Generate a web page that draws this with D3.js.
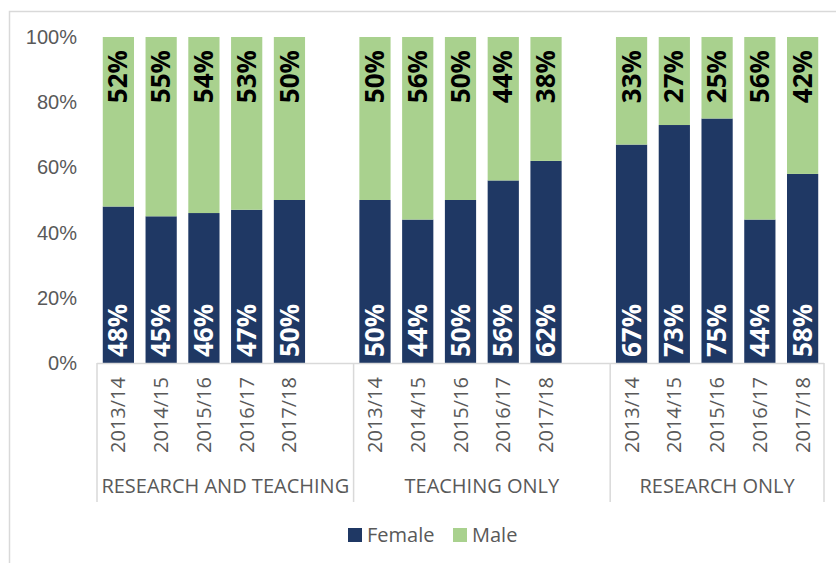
<!DOCTYPE html>
<html lang="en">
<head>
    <meta charset="UTF-8">
    <title>Female / Male staff by contract type</title>
    <script src="https://d3js.org/d3.v7.min.js"></script>
    <style>
    html, body {
        margin: 0;
        padding: 0;
        background: #fff;
    }

    svg {
        display: block;
        font-family: "Open Sans", "Noto Sans", Arial, sans-serif;
    }

    .axis text {
        fill: #595959;
        font-size: 20px;
    }

    .label-female {
        fill: #fff;
        font-weight: bold;
        font-size: 26px;
    }

    .label-male {
        fill: #000;
        font-weight: bold;
        font-size: 26px;
    }
    </style>
</head>
<body>
    <svg id="canvas"></svg>

    <script>
    // Data
    let groups = ['RESEARCH AND TEACHING', 'TEACHING ONLY', 'RESEARCH ONLY'];
    let years = ['2013/14', '2014/15', '2015/16', '2016/17', '2017/18'];
    let female = [
        [48, 45, 46, 47, 50],
        [50, 44, 50, 56, 62],
        [67, 73, 75, 44, 58]
    ];
    let male = [
        [52, 55, 54, 53, 50],
        [50, 56, 50, 44, 38],
        [33, 27, 25, 56, 42]
    ];
    let yTicks = [0, 20, 40, 60, 80, 100];
    let seriesNames = ['Female', 'Male'];
    let colors = ['#1F3864', '#A9D18E'];

    let width = 836;
    let height = 563;
    let plotLeft = 97;
    let plotRight = 824;
    let plotTop = 37;
    let plotBottom = 363;

    let svg = d3.select('#canvas')
        .attr('width', width)
        .attr('height', height);

    // chart frame
    svg.append('rect')
        .attr('x', 9.5)
        .attr('y', 11.5)
        .attr('width', 900)
        .attr('height', 700)
        .attr('fill', 'none')
        .attr('stroke', '#d9d9d9')
        .attr('stroke-width', 1.5);

    // Build rows: one slot per year, plus an empty slot after each group but the last
    let rows = [];
    let slots = [];
    groups.forEach((g, gi) => {
        years.forEach((y, yi) => {
            let key = gi + '|' + y;
            slots.push(key);
            rows.push({ key: key, group: gi, year: y, female: female[gi][yi], male: male[gi][yi] });
        });
        if (gi < groups.length - 1) slots.push(gi + '|gap');
    });

    let xScale = d3.scaleBand()
        .domain(slots)
        .range([plotLeft, plotRight])
        .paddingInner(0.27)
        .paddingOuter(0.135);

    let yScale = d3.scaleLinear()
        .domain([0, 100])
        .range([plotBottom, plotTop]);

    // Y axis
    let yAxis = d3.axisLeft(yScale)
        .tickValues(yTicks)
        .tickFormat(d => d + '%')
        .tickSize(0)
        .tickPadding(20);

    svg.append('g')
        .attr('class', 'axis')
        .attr('transform', 'translate(' + plotLeft + ', 0)')
        .call(yAxis)
        .call(g => g.select('.domain').remove());

    // Bars
    let stack = d3.stack().keys(['female', 'male'])(rows);

    svg.selectAll('g.series')
        .data(stack)
        .enter()
        .append('g')
        .attr('class', 'series')
        .attr('fill', (d, i) => colors[i])
        .selectAll('rect')
        .data(d => d)
        .enter()
        .append('rect')
        .attr('x', d => xScale(d.data.key))
        .attr('width', xScale.bandwidth())
        .attr('y', d => yScale(d[1]))
        .attr('height', d => yScale(d[0]) - yScale(d[1]));

    // Value labels
    let barMid = d => xScale(d.key) + xScale.bandwidth() / 2;

    svg.selectAll('text.label-female')
        .data(rows)
        .enter()
        .append('text')
        .attr('class', 'label-female')
        .attr('text-anchor', 'start')
        .attr('dy', '0.35em')
        .attr('transform', d => 'translate(' + barMid(d) + ',' + (yScale(0) - 6) + ') rotate(-90)')
        .text(d => d.female + '%');

    svg.selectAll('text.label-male')
        .data(rows)
        .enter()
        .append('text')
        .attr('class', 'label-male')
        .attr('text-anchor', 'end')
        .attr('dy', '0.35em')
        .attr('transform', d => 'translate(' + barMid(d) + ',' + (yScale(100) + 13) + ') rotate(-90)')
        .text(d => d.male + '%');

    // X axis (two levels)
    let xAxis = svg.append('g').attr('class', 'axis');

    xAxis.append('line')
        .attr('x1', plotLeft)
        .attr('x2', plotRight)
        .attr('y1', plotBottom + 0.5)
        .attr('y2', plotBottom + 0.5)
        .attr('stroke', '#d9d9d9')
        .attr('stroke-width', 1.5);

    xAxis.selectAll('text.year')
        .data(rows)
        .enter()
        .append('text')
        .attr('class', 'year')
        .attr('text-anchor', 'end')
        .attr('dy', '0.35em')
        .attr('transform', d => 'translate(' + barMid(d) + ',' + (plotBottom + 14) + ') rotate(-90)')
        .text(d => d.year);

    // group boundaries
    let step = xScale.step();
    let groupEdges = [plotLeft];
    groups.forEach((g, gi) => {
        let end = gi < groups.length - 1
            ? xScale(gi + '|gap') + xScale.bandwidth() + step * xScale.paddingInner() / 2
            : plotRight;
        groupEdges.push(end);
    });

    xAxis.selectAll('line.sep')
        .data(groupEdges)
        .enter()
        .append('line')
        .attr('class', 'sep')
        .attr('x1', d => d)
        .attr('x2', d => d)
        .attr('y1', plotBottom)
        .attr('y2', 502)
        .attr('stroke', '#d9d9d9')
        .attr('stroke-width', 1.5);

    xAxis.selectAll('text.group')
        .data(groups)
        .enter()
        .append('text')
        .attr('class', 'group')
        .attr('text-anchor', 'middle')
        .attr('x', (d, i) => (groupEdges[i] + groupEdges[i + 1]) / 2)
        .attr('y', 493)
        .text(d => d);

    // Legend
    let legendX = [348, 453];
    let legend = svg.append('g').attr('class', 'axis');
    let items = legend.selectAll('g')
        .data(seriesNames)
        .enter()
        .append('g')
        .attr('transform', (d, i) => 'translate(' + legendX[i] + ', 528)');

    items.append('rect')
        .attr('width', 14)
        .attr('height', 14)
        .attr('fill', (d, i) => colors[i]);

    items.append('text')
        .attr('x', 19)
        .attr('y', 7)
        .attr('dy', '0.35em')
        .text(d => d);
    </script>
</body>
</html>
